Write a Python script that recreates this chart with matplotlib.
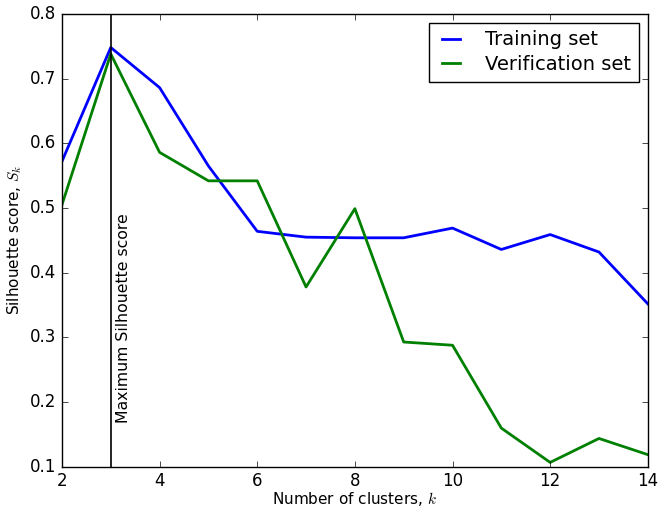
import numpy as np
import matplotlib
matplotlib.use("Agg")
import matplotlib.pyplot as plt

plt.style.use('classic')

# number of clusters
k_values = [2, 3, 4, 5, 6, 7, 8, 9, 10, 11, 12, 13, 14]
# silhouette scores
training_scores = [0.572, 0.748, 0.686, 0.565, 0.464, 0.455, 0.454, 0.454, 0.469, 0.436, 0.459, 0.432, 0.352]
verification_scores = [0.505, 0.738, 0.586, 0.542, 0.542, 0.378, 0.499, 0.293, 0.288, 0.160, 0.107, 0.144, 0.119]
best_k = 3

fig = plt.figure(figsize=(6.59, 5.12), dpi=100)
ax = fig.add_axes([0.094, 0.088, 0.889, 0.885])

ax.plot(k_values, training_scores, 'b', lw=2, label='Training set')
ax.plot(k_values, verification_scores, 'g', lw=2, label='Verification set')
ax.axvline(best_k, color='k', lw=1.2)
ax.text(best_k + 0.1, 0.168, 'Maximum Silhouette score', rotation=90,
        ha='left', va='bottom', fontsize=11.3)

ax.set_xlim(2, 14)
ax.set_ylim(0.1, 0.8)
ax.set_xlabel('Number of clusters, $k$', fontsize=11, labelpad=0)
ax.set_ylabel('Silhouette score, $S_k$', fontsize=11, labelpad=4)
ax.legend(loc='upper right', fontsize=14, handlelength=1.5, handletextpad=1.0,
          borderaxespad=0.45, labelspacing=0.3)

fig.savefig('out.png', dpi=100)
